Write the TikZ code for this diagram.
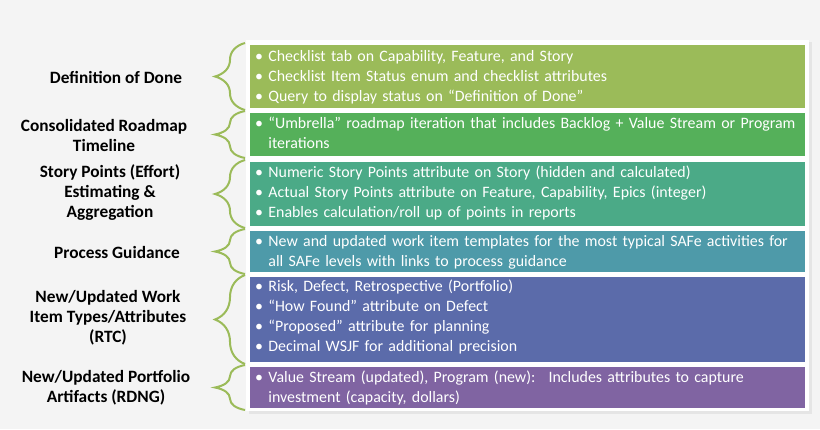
\documentclass[tikz,border=0pt]{standalone}
\usepackage{fontspec}
\setmainfont{Carlito}
\usetikzlibrary{decorations.pathreplacing}
\definecolor{bg}{HTML}{F4F4F4}
\definecolor{brc}{HTML}{9BBB59}
\definecolor{c1}{HTML}{9BBB59}
\definecolor{c2}{HTML}{55B05A}
\definecolor{c3}{HTML}{4BAA87}
\definecolor{c4}{HTML}{4E9AA9}
\definecolor{c5}{HTML}{5B6BAA}
\definecolor{c6}{HTML}{8064A2}
\begin{document}
\begin{tikzpicture}[x=1pt,y=-1pt,
  box/.style={anchor=north west,text width=545pt,inner xsep=5pt,inner ysep=0pt,text=white,font=\fontsize{15.9}{20}\selectfont,align=left},
  lab/.style={font=\bfseries\fontsize{17.3}{20}\selectfont,align=center,text=black},
  br/.style={draw=brc,line width=2pt,decorate,decoration={brace,amplitude=30pt,aspect=0.5}}]
\fill[bg] (0,0) rectangle (820,429);
\useasboundingbox (0,0) rectangle (820,429);
\fill[black!10] (249,42) rectangle (812,414);
\fill[white] (246,40) rectangle (809,411);
\foreach \a/\b/\c in {45/108/c1,113/156/c2,162/226/c3,231/272/c4,277/362/c5,367/408/c6}{\fill[\c] (250,\a) rectangle (805,\b);}
\coordinate (t1) at (250,45); \coordinate (t2) at (250,113); \coordinate (t3) at (250,162);
\coordinate (t4) at (250,231); \coordinate (t5) at (250,277); \coordinate (t6) at (250,367);
\node[box] (b1) at ([yshift=-5pt]t1) {• Checklist tab on Capability, Feature, and Story\\• Checklist Item Status enum and checklist attributes\\• Query to display status on “Definition of Done”};
\node[box] (b2) at ([yshift=-4pt]t2) {• “Umbrella” roadmap iteration that includes Backlog + Value Stream or Program\\\phantom{• }iterations};
\node[box] (b3) at ([yshift=-4pt]t3) {• Numeric Story Points attribute on Story (hidden and calculated)\\• Actual Story Points attribute on Feature, Capability, Epics (integer)\\• Enables calculation/roll up of points in reports};
\node[box] (b4) at ([yshift=-4pt]t4) {• New and updated work item templates for the most typical SAFe activities for\\\phantom{• }all SAFe levels with links to process guidance};
\node[box] (b5) at ([yshift=-3pt]t5) {• Risk, Defect, Retrospective (Portfolio)\\• “How Found” attribute on Defect\\• “Proposed” attribute for planning\\• Decimal WSJF for additional precision};
\node[box] (b6) at ([yshift=-4pt]t6) {• Value Stream (updated), Program (new): \ Includes attributes to capture\\\phantom{• }investment (capacity, dollars)};
\foreach \a/\b/\n in {43/110/1,111/158/2,160/228/3,229/274/4,275/364/5,365/410/6}{
  \coordinate (u\n) at (245,\a); \coordinate (d\n) at (245,\b);
  \draw[br] (d\n) -- (u\n);}
\node[lab] (l1) at (116,77) {Definition of Done};
\node[lab] (l2) at (104,135) {Consolidated Roadmap\\Timeline};
\node[lab] (l3) at (110,193) {Story Points (Effort)\\Estimating \&\\Aggregation};
\node[lab] (l4) at (117,252) {Process Guidance};
\node[lab] (l5) at (108,318) {New/Updated Work\\Item Types/Attributes\\(RTC)};
\node[lab] (l6) at (106,388) {New/Updated Portfolio\\Artifacts (RDNG)};
\end{tikzpicture}
\end{document}
